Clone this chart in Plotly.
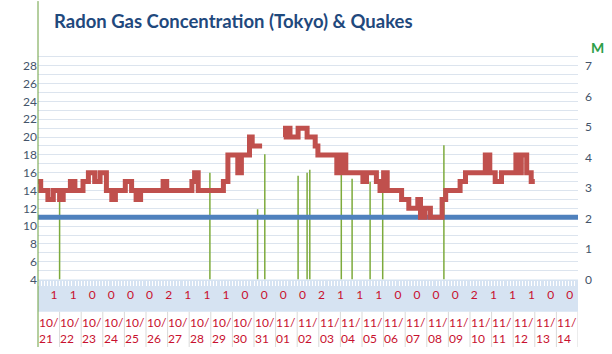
import plotly.graph_objects as go

# ---------------- data ----------------
dates = ["10/21", "10/22", "10/23", "10/24", "10/25", "10/26", "10/27", "10/28",
         "10/29", "10/30", "10/31", "11/01", "11/02", "11/03", "11/04", "11/05",
         "11/06", "11/07", "11/08", "11/09", "11/10", "11/11", "11/12", "11/13", "11/14"]

quake_counts = [1, 1, 0, 0, 0, 0, 2, 1, 1, 1, 0, 0, 0, 0,
                2, 1, 1, 1, 0, 0, 0, 0, 2, 1, 1, 1, 0, 0]

# radon level change points (hours since 10/21 00:00) and level (step series)
radon_hours = [0, 3, 11, 17, 24, 28, 36, 41, 50, 56,
               63, 69, 76, 82, 86, 97, 104, 109, 114, 139,
               143, 171, 174, 178, 206, 211, 222, 226, 235, 238,
               249, 250, 273, 275, 280, 289, 299, 308, 311, 332,
               337, 342, 361, 365, 376, 380, 384, 388, 404, 412,
               422, 425, 430, 436, 449, 453, 469, 475, 497, 502,
               508, 515, 531, 535, 537, 543, 548, 552]
radon_level = [15, 14, 13, 14, 13, 14, 15, 14, 15, 16,
               15, 16, 14, 13, 14, 15, 14, 13, 14, 15,
               14, 15, 16, 14, 15, 18, 16, 18, 20, 19,
               19, None, 20, 21, 20, 21, 20, 19, 18, 16,
               18, 16, 15, 16, 15, 14, 16, 14, 13, 12,
               13, 11, 12, 11, 13, 14, 15, 16, 18, 16,
               15, 16, 18, 16, 18, 16, 15, 15]

threshold = 11

# quakes: time (hours since 10/21 00:00) and magnitude
quake_hours = [24, 191, 244, 252, 289, 299, 302, 337, 349, 369, 383, 451]
quake_mag = [2.6, 3.5, 2.3, 4.1, 3.4, 3.5, 3.6, 3.9, 3.3, 3.2, 2.9, 4.4]

# ---------------- styling ----------------
RED = "#C0504D"
BLUE = "#4F81BD"
GREEN = "#7DAA3C"
LABEL_RED = "#C8102E"
AXIS_TXT = "#44546A"
FONT = "Lato"

n_days = len(dates)
band_top = 0.2255
band_bot = 0.1176

fig = go.Figure()

# quake magnitude lines (main y axis = magnitude, right side)
qx, qy = [], []
for h, m in zip(quake_hours, quake_mag):
    qx += [h / 24, h / 24, None]
    qy += [0, m, None]
fig.add_trace(go.Scatter(x=qx, y=qy, mode="lines", xaxis="x", yaxis="y",
                         line=dict(color=GREEN, width=1.5), hoverinfo="skip",
                         showlegend=False))

# threshold line (radon axis)
fig.add_trace(go.Scatter(x=[0, n_days], y=[threshold, threshold], mode="lines",
                         xaxis="x", yaxis="y2", line=dict(color=BLUE, width=5),
                         showlegend=False))

# radon step line
fig.add_trace(go.Scatter(x=[h / 24 for h in radon_hours], y=radon_level, mode="lines",
                         xaxis="x", yaxis="y2", line=dict(color=RED, width=5, shape="hv"),
                         connectgaps=False, showlegend=False))

# quake counts row
fig.add_trace(go.Scatter(x=list(range(len(quake_counts))), y=[0.5] * len(quake_counts),
                         mode="text", text=[str(c) for c in quake_counts],
                         textfont=dict(family=FONT, size=12, color=LABEL_RED),
                         xaxis="x3", yaxis="y3", showlegend=False, hoverinfo="skip"))

shapes = []
# light blue band
shapes.append(dict(type="rect", xref="paper", yref="paper", x0=0, x1=1,
                   y0=band_bot, y1=band_top, fillcolor="#D6E3F2", line=dict(width=0),
                   layer="below"))
# date cell separators
for i in range(1, n_days + 1):
    shapes.append(dict(type="line", xref="x", yref="paper", x0=i, x1=i,
                       y0=0, y1=band_bot, line=dict(color="#D9D9D9", width=1)))
# left green border line
shapes.append(dict(type="line", xref="paper", yref="paper", x0=0, x1=0,
                   y0=0, y1=354 / 306, line=dict(color="#6A9F3F", width=1)))

annotations = [
    dict(text="<b>Radon Gas Concentration (Tokyo) &amp; Quakes</b>", xref="paper",
         yref="paper", x=(52 - 38) / 540, y=(354 - 20) / 306, xanchor="left",
         yanchor="middle", showarrow=False,
         font=dict(family=FONT, size=18.5, color="#1F497D")),
    dict(text="<b>M</b>", xref="paper", yref="paper", x=(597 - 38) / 540,
         y=(354 - 47) / 306, xanchor="center", yanchor="middle", showarrow=False,
         font=dict(family=FONT, size=14, color="#2E9E48")),
]
# date labels (two lines) centred in each day cell
for i, d in enumerate(dates):
    m, dd = d.split("/")
    annotations.append(dict(text=f"{m}/<br>{dd}", xref="x", yref="paper",
                            x=i + 0.5, y=band_bot - 0.003, xanchor="center",
                            yanchor="top", showarrow=False, align="left",
                            font=dict(family=FONT, size=12, color=LABEL_RED)))

fig.update_layout(
    width=612, height=354, autosize=False,
    margin=dict(l=38, r=34, t=48, b=0, pad=0),
    paper_bgcolor="white", plot_bgcolor="white",
    font=dict(family=FONT, size=11, color=AXIS_TXT),
    shapes=shapes,
    annotations=annotations,
    xaxis=dict(domain=[0, 1], range=[0, n_days], anchor="y",
               showgrid=False, zeroline=False, showline=False,
               showticklabels=False, ticks="outside", ticklen=5,
               tickcolor="white", tickwidth=1, tick0=0, dtick=1 / 7),
    xaxis3=dict(domain=[0, 1], anchor="y3", range=[-0.84, 27.43], visible=False),
    yaxis3=dict(domain=[band_bot, band_top], anchor="x3", range=[0, 1], visible=False),
    yaxis=dict(domain=[band_top, 1], side="right", range=[0, 7 * 26 / 24],
               tickvals=list(range(0, 8)), showgrid=False, zeroline=False,
               showline=False, ticks="", ticklabelstandoff=6,
               tickfont=dict(family=FONT, size=12, color=AXIS_TXT)),
    yaxis2=dict(overlaying="y", side="left", range=[4, 30],
                tickvals=list(range(4, 29, 2)), showgrid=True, gridcolor="#DCE4EE",
                gridwidth=1, zeroline=False, showline=False, ticks="",
                minor=dict(tickvals=list(range(5, 31, 2)), showgrid=True,
                           gridcolor="#DCE4EE", gridwidth=1),
                tickfont=dict(family=FONT, size=12, color=AXIS_TXT)),
)

fig.write_html("out.html")
